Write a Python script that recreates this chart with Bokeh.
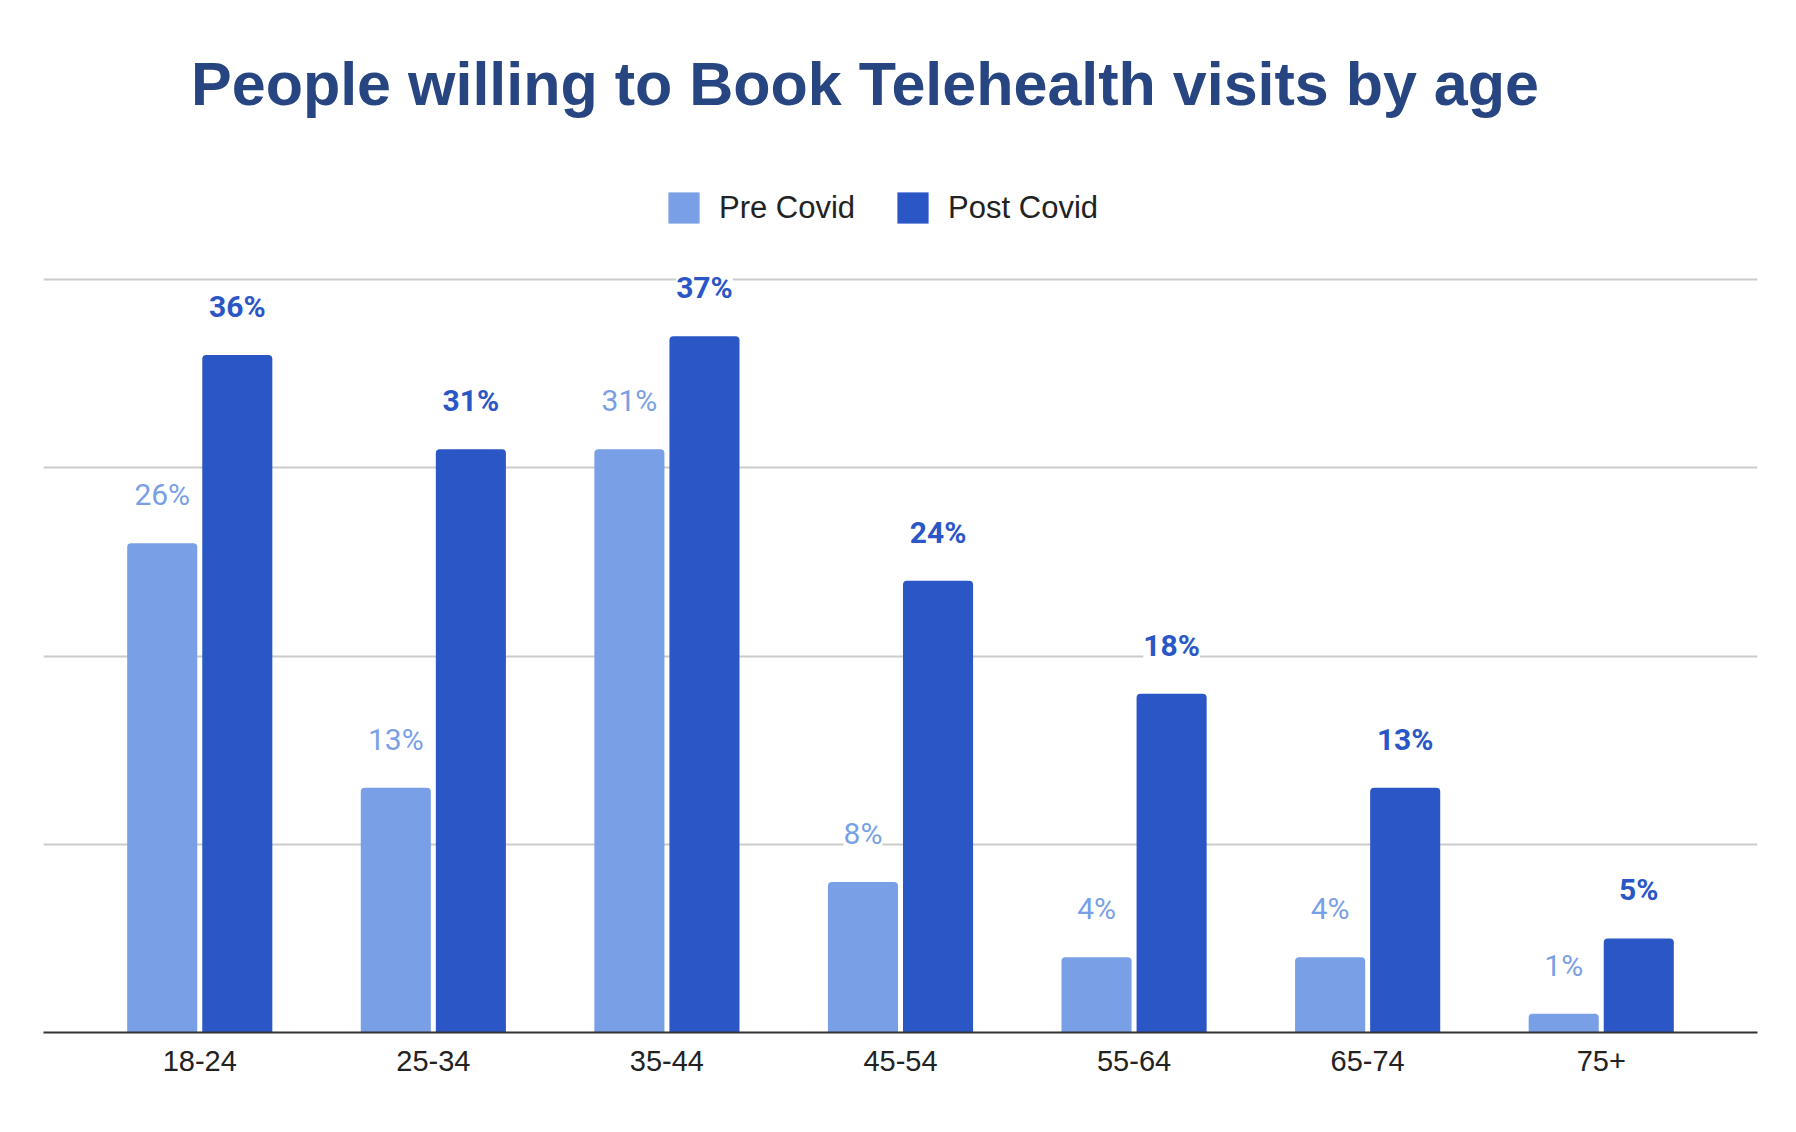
from bokeh.plotting import figure
from bokeh.models import (ColumnDataSource, Range1d, FixedTicker, Grid, Legend,
                          LegendItem, Label, LabelSet)
from bokeh.core.properties import value
from bokeh.embed import file_html
from bokeh.resources import INLINE

# ---- data ----
categories = ["18-24", "25-34", "35-44", "45-54", "55-64", "65-74", "75+"]
pre_covid = [26, 13, 31, 8, 4, 4, 1]
post_covid = [36, 31, 37, 24, 18, 13, 5]
series_names = ["Pre Covid", "Post Covid"]
title_text = "People willing to Book Telehealth visits by age"
grid_ticks = [10, 20, 30, 40]

# ---- styles ----
PRE_COLOR = "#799fe6"
POST_COLOR = "#2a56c6"
TITLE_COLOR = "#274580"
BAR_W = 0.30
OFF = 0.1607

idx = list(range(len(categories)))
pre_src = ColumnDataSource(dict(x=[i - OFF for i in idx], top=pre_covid,
                                label=[f"{v}%" for v in pre_covid]))
post_src = ColumnDataSource(dict(x=[i + OFF for i in idx], top=post_covid,
                                 label=[f"{v}%" for v in post_covid]))

p = figure(width=1780, height=1116,
           x_range=Range1d(-0.669, len(categories) - 1 + 0.669),
           y_range=Range1d(0, 54.84),
           output_backend="svg", toolbar_location=None,
           y_axis_location=None,
           min_border_left=43, min_border_right=23,
           min_border_top=0, min_border_bottom=84)
p.outline_line_color = None
p.grid.visible = False
p.background_fill_color = "white"
p.border_fill_color = "white"

p.add_layout(Grid(dimension=1, ticker=FixedTicker(ticks=grid_ticks, minor_ticks=[]),
                  grid_line_color="#cccccc", grid_line_width=2))

r_pre = p.vbar(x="x", top="top", width=BAR_W, bottom=0, source=pre_src,
               fill_color=PRE_COLOR, line_color=None, border_radius=(4, 4, 0, 0))
r_post = p.vbar(x="x", top="top", width=BAR_W, bottom=0, source=post_src,
                fill_color=POST_COLOR, line_color=None, border_radius=(4, 4, 0, 0))

ax = p.xaxis[0]
ax.ticker = FixedTicker(ticks=idx, minor_ticks=[])
ax.major_label_overrides = {i: c for i, c in zip(idx, categories)}
ax.major_tick_line_color = None
ax.minor_tick_line_color = None
ax.axis_line_color = "#333333"
ax.axis_line_width = 2
ax.major_label_text_font = "Liberation Sans"
ax.major_label_text_font_size = "29px"
ax.major_label_text_color = "#222222"
ax.major_label_standoff = 12

p.add_layout(LabelSet(x="x", y="top", text="label", source=pre_src, y_offset=38,
                      text_align="center", text_baseline="alphabetic",
                      text_font=value("Roboto"), text_font_size=value("30px"),
                      text_color=PRE_COLOR, background_fill_color="white"))
p.add_layout(LabelSet(x="x", y="top", text="label", source=post_src, y_offset=38,
                      text_align="center", text_baseline="alphabetic",
                      text_font=value("Roboto"), text_font_size=value("30px"),
                      text_font_style="bold",
                      text_color=POST_COLOR, background_fill_color="white"))

legend = Legend(items=[LegendItem(label=series_names[0], renderers=[r_pre]),
                       LegendItem(label=series_names[1], renderers=[r_post])],
                orientation="horizontal", location=(621, 805),
                glyph_width=39, glyph_height=39, label_standoff=16, spacing=38,
                padding=0, margin=0, border_line_alpha=0, background_fill_alpha=0,
                label_text_font="Liberation Sans", label_text_font_size="31px",
                label_text_color="#222222")
p.add_layout(legend, "center")

p.add_layout(Label(x=2.848, y=50.38, text=title_text, text_align="center",
                   text_baseline="alphabetic", text_font="Liberation Sans",
                   text_font_style="bold", text_font_size="61px",
                   text_color=TITLE_COLOR))

open("out.html", "w").write(file_html(p, INLINE))
